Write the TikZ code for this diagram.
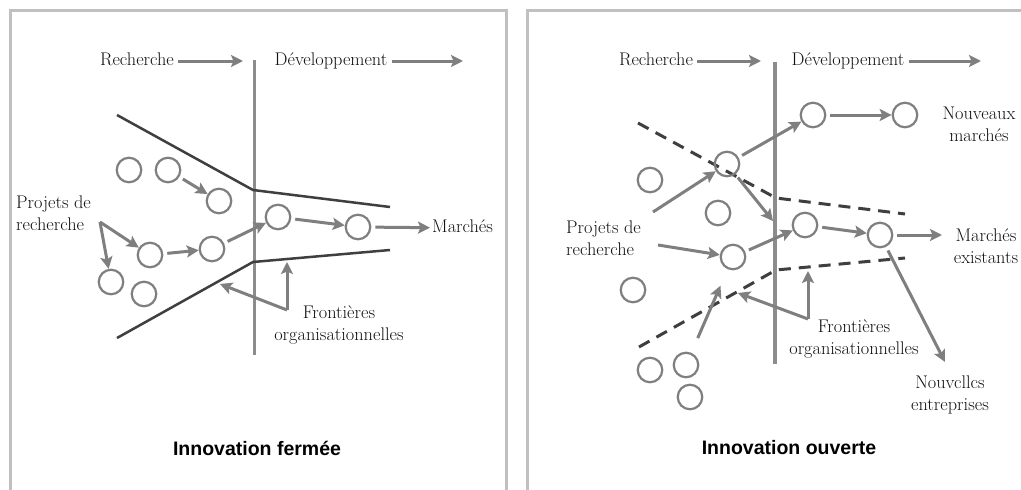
\documentclass[tikz,border=0pt]{standalone}
\usepackage{fontspec}
\newfontfamily\titlefont{Liberation Sans}
\usetikzlibrary{arrows.meta}

\definecolor{framegray}{HTML}{C0C0C0}
\definecolor{arrowgray}{HTML}{7F7F7F}
\definecolor{linedark}{HTML}{3F3F3F}
\definecolor{textdark}{HTML}{111111}

\tikzset{
  proj/.style={circle,draw=arrowgray,line width=2.2pt,minimum size=24.5pt,inner sep=0pt},
  arr/.style={draw=arrowgray,line width=3pt,-{Stealth[length=12pt,width=12pt,inset=2.5pt]},shorten <=4pt},
  lbl/.style={text=textdark,font=\fontsize{18.3}{22}\selectfont,inner sep=2pt},
  funnel/.style={draw=linedark,line width=2.5pt},
  openfunnel/.style={funnel,line width=3pt,dash pattern=on 12pt off 8pt},
  border/.style={draw=framegray,line width=3pt},
  divider/.style={draw=arrowgray!90,line width=3pt},
  title/.style={text=black,font=\titlefont\bfseries\fontsize{19.5}{23}\selectfont}
}

\begin{document}
\begin{tikzpicture}[x=1pt,y=-1pt]
    \fill[white] (0,0) rectangle (1021,490);
    \useasboundingbox (0,0) rectangle (1021,490);

    \draw[border] (10,495) -- (10,10) -- (506,10) -- (506,495);
    \draw[border] (527,495) -- (527,10) -- (1025,10);

    \node[lbl] (rechL) at (137,61) {Recherche\strut};
    \coordinate (rechLto) at (243,61);
    \node[lbl] (devL) at (331,61) {Développement\strut};
    \coordinate (devLto) at (463,61);
    \draw[arr,shorten <=2pt] (rechL) -- (rechLto);
    \draw[arr,shorten <=2pt] (devL) -- (devLto);

    \draw[divider] (254,60) -- (254,355);
    \draw[funnel] (117,115) -- (253,190) -- (390,207);
    \draw[funnel] (117,338) -- (253,262) -- (390,250);

    \node[proj] (c1) at (129,170) {};
    \node[proj] (c2) at (168,170) {};
    \node[proj] (c3) at (219,201) {};
    \node[proj] (c4) at (150,255) {};
    \node[proj] (c5) at (212,249) {};
    \node[proj] (c6) at (111,282) {};
    \node[proj] (c7) at (144,294) {};
    \node[proj] (c8) at (278,217) {};
    \node[proj] (c9) at (358,227) {};

    \node[lbl,align=left,anchor=west,inner sep=0pt] (projL) at (16,213) {Projets de\\recherche};
    \coordinate (projLout) at (100,222);
    \draw[arr,shorten <=0pt] (projLout) -- (c4);
    \draw[arr,shorten <=0pt] (projLout) -- (c6);

    \draw[arr] (c2) -- (c3);
    \draw[arr] (c4) -- (c5);
    \draw[arr] (c5) -- (c8);
    \draw[arr] (c8) -- (c9);

    \node[lbl,anchor=west] (marL) at (430,228) {Marchés\strut};
    \draw[arr] (c9) -- (marL);

    \node[lbl,align=center] (frontL) at (339,325) {Frontières\\organisationnelles};
    \coordinate (frontLc) at (287,310);
    \coordinate (frontLup) at (287,262);
    \coordinate (frontLleft) at (220,284);
    \draw[arr,shorten <=0pt] (frontLc) -- (frontLup);
    \draw[arr,shorten <=0pt] (frontLc) -- (frontLleft);

    \node[title] (titleL) at (257,448) {Innovation fermée};

    \node[lbl] (rechR) at (656,61) {Recherche\strut};
    \coordinate (rechRto) at (761,61);
    \node[lbl] (devR) at (848,61) {Développement\strut};
    \coordinate (devRto) at (981,61);
    \draw[arr,shorten <=2pt] (rechR) -- (rechRto);
    \draw[arr,shorten <=2pt] (devR) -- (devRto);

    \draw[divider,line width=4pt] (775,62) -- (775,364);
    \draw[openfunnel] (638,123) -- (776,198) -- (905,214);
    \draw[openfunnel] (639,347) -- (776,270) -- (905,258);

    \node[proj] (r1) at (813,115) {};
    \node[proj] (r2) at (905,115) {};
    \node[proj] (r3) at (727,164) {};
    \node[proj] (r4) at (650,180) {};
    \node[proj] (r5) at (718,213) {};
    \node[proj] (r6) at (733,257) {};
    \node[proj] (r7) at (633,290) {};
    \node[proj] (r8) at (650,370) {};
    \node[proj] (r9) at (686,365) {};
    \node[proj] (r10) at (690,397) {};
    \node[proj] (r11) at (805,225) {};
    \node[proj] (r12) at (880,235) {};

    \node[lbl,align=center] (nouvR) at (979,124) {Nouveaux\\marchés};
    \node[lbl,align=center] (marR) at (986,246) {Marchés\\existants};
    \node[lbl,align=center] (entR) at (950,395) {Nouvcllcs\\entreprises};

    \node[lbl,align=left,anchor=west,inner sep=0pt] (projR) at (566,238) {Projets de\\recherche};
    \coordinate (projRa) at (653,212);
    \coordinate (projRb) at (658,245);
    \draw[arr,shorten <=0pt] (projRa) -- (r3);
    \draw[arr,shorten <=0pt] (projRb) -- (r6);

    \coordinate (divRhit) at (773,221);
    \coordinate (marRto) at (942,235);
    \coordinate (entRto) at (945,362);
    \draw[arr] (r1) -- (r2);
    \draw[arr] (r3) -- (r1);
    \draw[arr] (r3) -- (divRhit);
    \draw[arr] (r6) -- (r11);
    \draw[arr] (r11) -- (r12);
    \draw[arr] (r12) -- (marRto);
    \draw[arr] (r12) -- (entRto);
    \draw[arr,shorten <=16pt,shorten >=18pt] (r9) -- (r6);

    \node[lbl,align=center] (frontR) at (854,339) {Frontières\\organisationnelles};
    \coordinate (frontRc) at (808,319);
    \coordinate (frontRup) at (808,271);
    \coordinate (frontRleft) at (738,293);
    \draw[arr,shorten <=0pt] (frontRc) -- (frontRup);
    \draw[arr,shorten <=0pt] (frontRc) -- (frontRleft);

    \node[title] (titleR) at (789,448) {Innovation ouverte};
\end{tikzpicture}
\end{document}
